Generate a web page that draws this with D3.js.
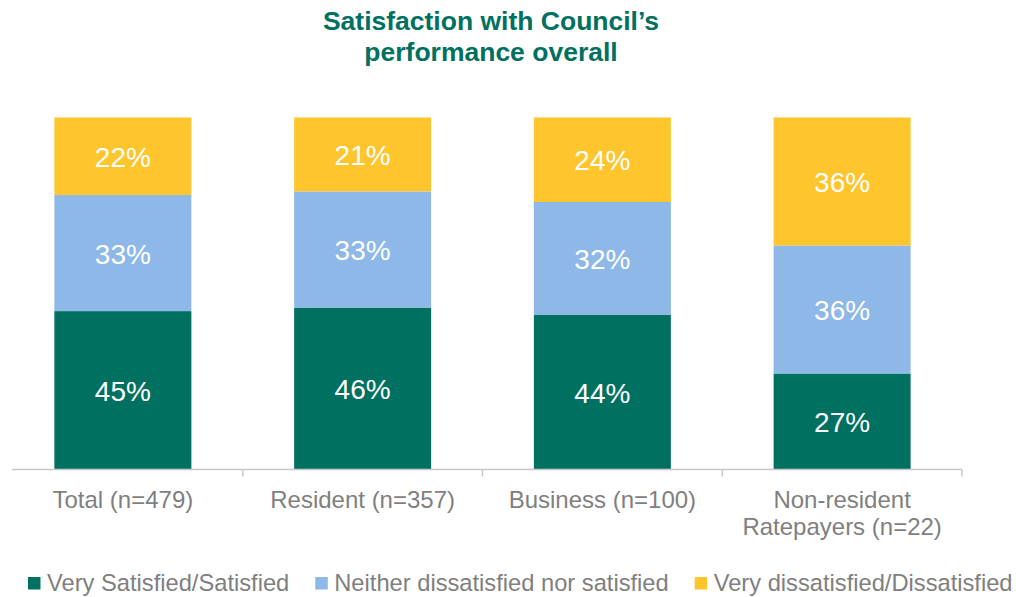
<!DOCTYPE html>
<html>
<head>
<meta charset="utf-8">
<script src="https://cdn.jsdelivr.net/npm/d3@7"></script>
<style>
  html, body { margin: 0; padding: 0; background: #fff; }
  svg { display: block; font-family: "Liberation Sans", Arial, sans-serif; }
</style>
</head>
<body>
<svg id="chart" width="1016" height="597"></svg>
<script>
// Survey groups (label lines) and the share in each satisfaction band
const groups = ["Total (n=479)", "Resident (n=357)", "Business (n=100)", "Non-resident\nRatepayers (n=22)"];
const satisfied = [45, 46, 44, 27];
const neutral = [33, 33, 32, 36];
const dissatisfied = [22, 21, 24, 36];
const seriesNames = ["Very Satisfied/Satisfied", "Neither dissatisfied nor satisfied", "Very dissatisfied/Dissatisfied"];
const seriesColors = ["#007060", "#8db8e8", "#ffc52c"];
const titleLines = ["Satisfaction with Council\u2019s", "performance overall"];

const keys = ["s", "n", "d"];
const rows = groups.map((g, i) => ({ group: g, s: satisfied[i], n: neutral[i], d: dissatisfied[i] }));

// Each bar is scaled to the full height of the plot
const stack = d3.stack().keys(keys).offset(d3.stackOffsetExpand);
const layers = stack(rows);

const svg = d3.select("#chart");

const x = d3.scaleBand().domain(groups).range([3, 962]).paddingInner(0.4286).paddingOuter(0.2143);
const y = d3.scaleLinear().domain([0, 1]).range([469.5, 117.5]);
const color = d3.scaleOrdinal().domain(keys).range(seriesColors);

// Title
svg.append("g").selectAll("text").data(titleLines).join("text")
  .attr("x", 491)
  .attr("y", (d, i) => 29.5 + i * 31.5)
  .attr("text-anchor", "middle")
  .attr("font-size", 26.5)
  .attr("font-weight", "bold")
  .attr("fill", "#007060")
  .text(d => d);

// Stacked bars
const layerG = svg.append("g").selectAll("g").data(layers).join("g")
  .attr("fill", d => color(d.key));

layerG.selectAll("rect").data(d => d).join("rect")
  .attr("x", d => x(d.data.group))
  .attr("width", x.bandwidth())
  .attr("y", d => y(d[1]))
  .attr("height", d => y(d[0]) - y(d[1]));

// Value labels inside segments
const valueOf = { s: satisfied, n: neutral, d: dissatisfied };
svg.append("g").selectAll("g").data(layers).join("g")
  .selectAll("text").data(l => l.map((d, i) => ({ d, v: valueOf[l.key][i] }))).join("text")
  .attr("x", o => x(o.d.data.group) + x.bandwidth() / 2)
  .attr("y", o => (y(o.d[0]) + y(o.d[1])) / 2)
  .attr("dy", "0.38em")
  .attr("text-anchor", "middle")
  .attr("font-size", 28)
  .attr("fill", "#ffffff")
  .text(o => o.v + "%");

// Category axis: baseline with dividers between groups
const step = x.step();
const axis = svg.append("g").attr("stroke", "#c8c8c8").attr("stroke-width", 1.5);
axis.append("line")
  .attr("x1", 12).attr("x2", x.range()[1])
  .attr("y1", y(0)).attr("y2", y(0));
axis.selectAll("line.tick").data(groups).join("line")
  .attr("class", "tick")
  .attr("x1", d => x(d) - step * x.paddingInner() / 2 + step)
  .attr("x2", d => x(d) - step * x.paddingInner() / 2 + step)
  .attr("y1", y(0)).attr("y2", y(0) + 7);

svg.append("g").selectAll("text").data(groups).join("text")
  .attr("x", d => x(d) + x.bandwidth() / 2)
  .attr("y", 508)
  .attr("text-anchor", "middle")
  .attr("font-size", 24)
  .attr("fill", "#7f7f7f")
  .each(function (d) {
    d3.select(this).selectAll("tspan").data(d.split("\n")).join("tspan")
      .attr("x", d3.select(this).attr("x"))
      .attr("dy", (t, i) => i === 0 ? 0 : 27)
      .text(t => t);
  });

// Legend
const legend = svg.append("g");
let lx = 28;
seriesNames.forEach((name, i) => {
  const item = legend.append("g");
  item.append("rect")
    .attr("x", lx).attr("y", 577)
    .attr("width", 12.5).attr("height", 12.5)
    .attr("fill", seriesColors[i]);
  const t = item.append("text")
    .attr("x", lx + 19).attr("y", 591)
    .attr("font-size", 23.7)
    .attr("fill", "#7f7f7f")
    .text(name);
  lx += 19 + t.node().getComputedTextLength() + 26;
});
</script>
</body>
</html>
